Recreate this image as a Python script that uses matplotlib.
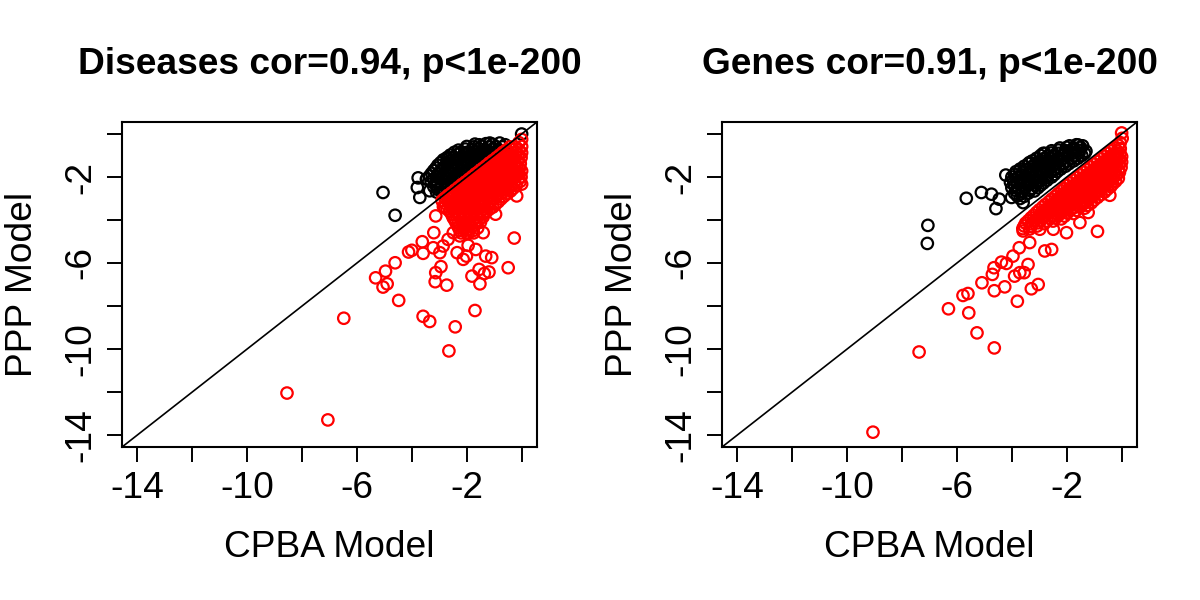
import matplotlib.pyplot as plt
import numpy as np

plt.rcParams['font.family'] = ['Liberation Sans', 'DejaVu Sans']

# ---- Diseases panel ----
dis_title = "Diseases cor=0.94, p<1e-200"
dis_black = [
    (-1.55, -0.5), (-1.3, -0.45), (-1.05, -0.48), (-0.8, -0.42), (-0.6, -0.5),
    (-2.3, -0.75), (-2.05, -0.7), (-1.8, -0.72), (-1.55, -0.68), (-1.3, -0.74), (-1.05, -0.7), (-0.85, -0.72),
    (-2.6, -0.98), (-2.35, -0.95), (-2.1, -0.92), (-1.85, -0.97), (-1.6, -0.93), (-1.35, -0.98), (-1.1, -0.95),
    (-2.85, -1.2), (-2.6, -1.25), (-2.35, -1.18), (-2.1, -1.22), (-1.85, -1.2), (-1.6, -1.24), (-1.38, -1.2),
    (-3.05, -1.45), (-2.8, -1.5), (-2.55, -1.43), (-2.3, -1.47), (-2.05, -1.45), (-1.8, -1.5), (-1.62, -1.45),
    (-3.2, -1.7), (-2.95, -1.74), (-2.7, -1.68), (-2.45, -1.72), (-2.2, -1.7), (-1.95, -1.75), (-1.87, -1.7),
    (-3.35, -1.95), (-3.1, -2.0), (-2.85, -1.93), (-2.6, -1.97), (-2.35, -1.95), (-2.12, -2.0),
    (-3.3, -2.2), (-3.05, -2.25), (-2.8, -2.18), (-2.55, -2.22), (-2.38, -2.2),
    (-3.2, -2.45), (-2.95, -2.5), (-2.7, -2.45),
    (-3.1, -2.7), (-2.88, -2.75),
    # in-between rows
    (-2.0, -0.58), (-1.75, -0.6), (-1.45, -0.57), (-1.2, -0.6), (-0.95, -0.58), (-0.7, -0.6),
    (-2.45, -0.85), (-2.2, -0.83), (-1.95, -0.86), (-1.68, -0.82), (-1.45, -0.85), (-1.2, -0.84), (-0.98, -0.86),
    (-2.72, -1.1), (-2.48, -1.07), (-2.22, -1.1), (-1.98, -1.06), (-1.72, -1.1), (-1.48, -1.08), (-1.25, -1.12),
    (-2.95, -1.33), (-2.7, -1.36), (-2.45, -1.32), (-2.2, -1.35), (-1.95, -1.33), (-1.72, -1.37), (-1.5, -1.34),
    (-3.12, -1.58), (-2.88, -1.6), (-2.62, -1.57), (-2.38, -1.6), (-2.12, -1.58), (-1.9, -1.62), (-1.72, -1.58),
    (-3.28, -1.83), (-3.02, -1.86), (-2.78, -1.82), (-2.52, -1.85), (-2.28, -1.83), (-2.02, -1.88),
    (-3.45, -2.08), (-3.2, -2.1), (-2.95, -2.07), (-2.7, -2.1), (-2.45, -2.08), (-2.25, -2.12),
    (-3.15, -2.33), (-2.9, -2.36), (-2.65, -2.32), (-2.48, -2.35),
    (-3.05, -2.58), (-2.8, -2.6),
    # loose ones
    (-5.05, -2.72), (-4.61, -3.78), (-3.77, -2.04), (-3.8, -2.49), (-3.71, -2.95),
    (-3.47, -2.10), (-2.68, -1.14), (-2.01, -0.86), (-1.70, -0.47), (-1.16, -0.42),
    (0.0, 0.0), (-3.10, -2.41), (-3.35, -2.64),
]
dis_red = [
    (0.0, -0.25), (-0.1, -0.4),
    (-0.42, -0.6), (-0.2, -0.62), (0.0, -0.58),
    (-0.68, -0.85), (-0.45, -0.88), (-0.22, -0.83), (0.0, -0.87),
    (-0.92, -1.1), (-0.7, -1.12), (-0.48, -1.08), (-0.25, -1.12), (-0.02, -1.1),
    (-1.18, -1.35), (-0.95, -1.38), (-0.72, -1.33), (-0.5, -1.37), (-0.28, -1.35), (-0.05, -1.38),
    (-1.42, -1.6), (-1.2, -1.63), (-0.98, -1.58), (-0.75, -1.62), (-0.52, -1.6), (-0.3, -1.63), (-0.08, -1.6),
    (-1.68, -1.85), (-1.45, -1.88), (-1.22, -1.83), (-1.0, -1.87), (-0.78, -1.85), (-0.55, -1.88), (-0.32, -1.84), (-0.1, -1.87),
    (-1.92, -2.1), (-1.7, -2.13), (-1.48, -2.08), (-1.25, -2.12), (-1.02, -2.1), (-0.8, -2.13), (-0.58, -2.09), (-0.35, -2.12), (-0.12, -2.1),
    (-2.18, -2.35), (-1.95, -2.38), (-1.72, -2.33), (-1.5, -2.37), (-1.28, -2.35), (-1.05, -2.38), (-0.82, -2.34), (-0.6, -2.37), (-0.38, -2.35), (-0.2, -2.4),
    (-2.42, -2.6), (-2.2, -2.63), (-1.98, -2.58), (-1.75, -2.62), (-1.52, -2.6), (-1.3, -2.63), (-1.08, -2.59), (-0.85, -2.62), (-0.62, -2.6), (-0.4, -2.65),
    (-2.68, -2.85), (-2.45, -2.88), (-2.22, -2.83), (-2.0, -2.87), (-1.78, -2.85), (-1.55, -2.88), (-1.32, -2.84), (-1.1, -2.87), (-0.88, -2.85), (-0.65, -2.9),
    (-2.9, -3.1), (-2.65, -3.13), (-2.42, -3.08), (-2.2, -3.12), (-1.98, -3.1), (-1.75, -3.13), (-1.52, -3.09), (-1.3, -3.12), (-1.08, -3.1), (-0.85, -3.15),
    (-2.85, -3.38), (-2.6, -3.35), (-2.38, -3.38), (-2.15, -3.33), (-1.92, -3.37), (-1.7, -3.35), (-1.48, -3.38), (-1.25, -3.34), (-1.05, -3.4),
    (-2.62, -3.6), (-2.4, -3.63), (-2.18, -3.58), (-1.95, -3.62), (-1.72, -3.6), (-1.5, -3.63), (-1.28, -3.6),
    (-2.5, -3.88), (-2.28, -3.85), (-2.05, -3.88), (-1.82, -3.83), (-1.6, -3.87), (-1.4, -3.85),
    (-2.4, -4.1), (-2.15, -4.13), (-1.92, -4.08), (-1.7, -4.12), (-1.5, -4.1),
    (-2.3, -4.35), (-2.05, -4.38), (-1.82, -4.33), (-1.6, -4.37),
    (-2.2, -4.6), (-1.95, -4.63), (-1.75, -4.6),
    # in-between rows
    (-0.55, -0.73), (-0.32, -0.72), (-0.1, -0.74),
    (-0.8, -0.98), (-0.58, -0.97), (-0.35, -0.99), (-0.12, -0.96),
    (-1.05, -1.23), (-0.82, -1.22), (-0.6, -1.24), (-0.38, -1.21), (-0.15, -1.24),
    (-1.3, -1.48), (-1.08, -1.47), (-0.85, -1.49), (-0.62, -1.46), (-0.4, -1.49), (-0.18, -1.47),
    (-1.55, -1.73), (-1.32, -1.72), (-1.1, -1.74), (-0.88, -1.71), (-0.65, -1.74), (-0.42, -1.72), (-0.2, -1.74), (0.0, -1.72),
    (-1.8, -1.98), (-1.58, -1.97), (-1.35, -1.99), (-1.12, -1.96), (-0.9, -1.99), (-0.68, -1.97), (-0.45, -1.99), (-0.22, -1.97), (-0.02, -2.0),
    (-2.05, -2.23), (-1.82, -2.22), (-1.6, -2.24), (-1.38, -2.21), (-1.15, -2.24), (-0.92, -2.22), (-0.7, -2.24), (-0.48, -2.21), (-0.26, -2.25), (-0.05, -2.2),
    (-2.3, -2.48), (-2.08, -2.47), (-1.85, -2.49), (-1.62, -2.46), (-1.4, -2.49), (-1.18, -2.47), (-0.95, -2.49), (-0.72, -2.46), (-0.5, -2.5), (-0.3, -2.52),
    (-2.55, -2.73), (-2.32, -2.72), (-2.1, -2.74), (-1.88, -2.71), (-1.65, -2.74), (-1.42, -2.72), (-1.2, -2.74), (-0.98, -2.71), (-0.75, -2.75), (-0.52, -2.78),
    (-2.8, -2.98), (-2.55, -2.97), (-2.32, -2.99), (-2.1, -2.96), (-1.88, -2.99), (-1.65, -2.97), (-1.42, -2.99), (-1.2, -2.96), (-0.98, -3.0), (-0.75, -3.02),
    (-2.78, -3.23), (-2.52, -3.22), (-2.3, -3.24), (-2.08, -3.21), (-1.85, -3.24), (-1.62, -3.22), (-1.4, -3.24), (-1.18, -3.22), (-0.95, -3.27),
    (-2.72, -3.48), (-2.5, -3.47), (-2.28, -3.49), (-2.05, -3.46), (-1.82, -3.49), (-1.6, -3.47), (-1.38, -3.5), (-1.18, -3.5),
    (-2.55, -3.73), (-2.3, -3.72), (-2.08, -3.74), (-1.85, -3.71), (-1.62, -3.74), (-1.4, -3.72),
    (-2.45, -3.98), (-2.2, -3.97), (-1.98, -3.99), (-1.75, -3.96), (-1.55, -3.99),
    (-2.35, -4.23), (-2.12, -4.22), (-1.9, -4.24), (-1.68, -4.21),
    (-2.25, -4.48), (-2.0, -4.47), (-1.78, -4.5),
    # loose ones
    (-8.55, -12.05), (-7.06, -13.30), (-6.48, -8.57), (-4.48, -7.74), (-5.32, -6.69),
    (-4.96, -6.38), (-5.05, -7.12), (-4.90, -6.97), (-4.61, -5.99), (-4.12, -5.49),
    (-4.00, -5.41), (-3.59, -5.55), (-3.62, -5.01), (-3.20, -4.59), (-3.13, -3.81),
    (-3.59, -8.48), (-3.35, -8.72), (-2.42, -8.97), (-2.65, -10.09), (-1.70, -8.21),
    (-3.15, -6.87), (-3.13, -6.45), (-2.94, -6.17), (-2.73, -7.03), (-1.81, -6.61),
    (-1.52, -6.97), (-1.55, -6.30), (-1.36, -6.49), (-1.19, -6.42), (-0.49, -6.22),
    (-0.27, -4.84), (-1.09, -5.75), (-1.31, -5.68), (-2.01, -5.68), (-2.13, -5.83),
    (-2.35, -5.52), (-1.67, -5.37), (-1.40, -4.59), (-0.95, -3.73), (-1.95, -5.18),
    (-2.49, -4.59), (-2.86, -5.21), (-3.22, -5.29), (-2.68, -4.90), (-2.98, -5.52),
    (-2.25, -4.74), (-2.01, -4.59), (-0.18, -2.88), (0.0, -2.33), (-0.12, -1.79),
    (-2.80, -3.42),
]

# ---- Genes panel ----
gene_title = "Genes cor=0.91, p<1e-200"
gene_black = [
    (-1.9, -0.55), (-1.65, -0.5), (-1.42, -0.55),
    (-2.55, -0.78), (-2.3, -0.75), (-2.05, -0.77), (-1.8, -0.73), (-1.55, -0.76), (-1.3, -0.8),
    (-2.95, -1.0), (-2.7, -1.03), (-2.45, -0.98), (-2.2, -1.02), (-1.95, -1.0), (-1.7, -1.03), (-1.45, -1.0),
    (-3.25, -1.25), (-3.0, -1.28), (-2.75, -1.23), (-2.5, -1.27), (-2.25, -1.25), (-2.0, -1.28), (-1.75, -1.25),
    (-3.55, -1.5), (-3.3, -1.53), (-3.05, -1.48), (-2.8, -1.52), (-2.55, -1.5), (-2.3, -1.53), (-2.05, -1.5),
    (-3.85, -1.75), (-3.6, -1.78), (-3.35, -1.73), (-3.1, -1.77), (-2.85, -1.75), (-2.6, -1.78), (-2.35, -1.75),
    (-4.0, -2.0), (-3.75, -2.03), (-3.5, -1.98), (-3.25, -2.02), (-3.0, -2.0), (-2.75, -2.03), (-2.55, -2.0),
    (-4.05, -2.25), (-3.8, -2.28), (-3.55, -2.23), (-3.3, -2.27), (-3.05, -2.25), (-2.85, -2.28),
    (-4.0, -2.5), (-3.75, -2.53), (-3.5, -2.48), (-3.25, -2.52), (-3.05, -2.5),
    (-3.9, -2.75), (-3.65, -2.78), (-3.4, -2.75),
    (-3.7, -3.0),
    # in-between rows
    (-2.25, -0.65), (-2.0, -0.62), (-1.75, -0.64), (-1.5, -0.62),
    (-2.8, -0.9), (-2.55, -0.88), (-2.3, -0.9), (-2.05, -0.87), (-1.8, -0.9), (-1.55, -0.88), (-1.35, -0.9),
    (-3.1, -1.13), (-2.85, -1.15), (-2.6, -1.12), (-2.35, -1.15), (-2.1, -1.13), (-1.85, -1.15), (-1.6, -1.13),
    (-3.4, -1.38), (-3.15, -1.4), (-2.9, -1.37), (-2.65, -1.4), (-2.4, -1.38), (-2.15, -1.4), (-1.92, -1.38),
    (-3.7, -1.63), (-3.45, -1.65), (-3.2, -1.62), (-2.95, -1.65), (-2.7, -1.63), (-2.45, -1.65), (-2.22, -1.63),
    (-3.9, -1.88), (-3.65, -1.9), (-3.4, -1.87), (-3.15, -1.9), (-2.9, -1.88), (-2.68, -1.9), (-2.45, -1.88),
    (-3.95, -2.13), (-3.7, -2.15), (-3.45, -2.12), (-3.2, -2.15), (-2.95, -2.13), (-2.72, -2.15),
    (-3.9, -2.38), (-3.65, -2.4), (-3.4, -2.37), (-3.15, -2.4), (-2.95, -2.38),
    (-3.85, -2.63), (-3.6, -2.65), (-3.35, -2.62), (-3.18, -2.65),
    (-3.8, -2.88), (-3.55, -2.9),
    # loose ones
    (-7.06, -4.25), (-7.08, -5.09), (-5.66, -2.99), (-5.11, -2.72), (-4.74, -2.80),
    (-4.58, -3.47), (-4.46, -3.03), (-4.22, -1.91), (-4.01, -2.95), (-3.59, -3.19),
    (-3.35, -1.32), (-2.86, -0.90), (-1.58, -0.51), (-3.71, -1.71),
]
gene_red = [
    (0.0, 0.05), (0.02, -0.2), (-0.05, -0.4),
    (-0.25, -0.65), (-0.05, -0.68),
    (-0.5, -0.9), (-0.28, -0.93), (-0.06, -0.9),
    (-0.75, -1.15), (-0.52, -1.18), (-0.3, -1.13), (-0.08, -1.17),
    (-1.0, -1.4), (-0.78, -1.43), (-0.55, -1.38), (-0.32, -1.42), (-0.1, -1.4),
    (-1.25, -1.65), (-1.02, -1.68), (-0.8, -1.63), (-0.58, -1.67), (-0.35, -1.65), (-0.12, -1.68),
    (-1.5, -1.9), (-1.28, -1.93), (-1.05, -1.88), (-0.82, -1.92), (-0.6, -1.9), (-0.38, -1.93), (-0.18, -1.9),
    (-1.75, -2.15), (-1.52, -2.18), (-1.3, -2.13), (-1.08, -2.17), (-0.85, -2.15), (-0.62, -2.18), (-0.4, -2.15), (-0.22, -2.2),
    (-1.98, -2.4), (-1.75, -2.43), (-1.52, -2.38), (-1.3, -2.42), (-1.08, -2.4), (-0.85, -2.43), (-0.62, -2.4), (-0.4, -2.45),
    (-2.2, -2.65), (-1.98, -2.68), (-1.75, -2.63), (-1.52, -2.67), (-1.3, -2.65), (-1.08, -2.68), (-0.85, -2.65), (-0.62, -2.7),
    (-2.42, -2.9), (-2.2, -2.93), (-1.98, -2.88), (-1.75, -2.92), (-1.52, -2.9), (-1.3, -2.93), (-1.08, -2.9), (-0.88, -2.95),
    (-2.65, -3.15), (-2.42, -3.18), (-2.2, -3.13), (-1.98, -3.17), (-1.75, -3.15), (-1.52, -3.18), (-1.3, -3.15), (-1.1, -3.2),
    (-2.88, -3.4), (-2.65, -3.43), (-2.42, -3.38), (-2.2, -3.42), (-1.98, -3.4), (-1.75, -3.43), (-1.52, -3.4), (-1.35, -3.45),
    (-3.1, -3.65), (-2.88, -3.68), (-2.65, -3.63), (-2.42, -3.67), (-2.2, -3.65), (-1.98, -3.68), (-1.75, -3.7),
    (-3.3, -3.9), (-3.08, -3.93), (-2.85, -3.88), (-2.62, -3.92), (-2.4, -3.9), (-2.2, -3.95),
    (-3.5, -4.15), (-3.28, -4.18), (-3.05, -4.13), (-2.82, -4.17),
    (-3.6, -4.4), (-3.35, -4.42),
    # in-between rows
    (-0.12, -0.53),
    (-0.38, -0.78), (-0.15, -0.8),
    (-0.62, -1.03), (-0.4, -1.05), (-0.18, -1.02), (0.0, -1.05),
    (-0.88, -1.28), (-0.65, -1.3), (-0.42, -1.27), (-0.2, -1.3), (0.0, -1.3),
    (-1.12, -1.53), (-0.9, -1.55), (-0.68, -1.52), (-0.45, -1.55), (-0.22, -1.53), (-0.02, -1.55),
    (-1.38, -1.78), (-1.15, -1.8), (-0.92, -1.77), (-0.7, -1.8), (-0.48, -1.78), (-0.25, -1.8), (-0.08, -1.78),
    (-1.62, -2.03), (-1.4, -2.05), (-1.18, -2.02), (-0.95, -2.05), (-0.72, -2.03), (-0.5, -2.05), (-0.3, -2.03), (-0.12, -2.06),
    (-1.88, -2.28), (-1.65, -2.3), (-1.42, -2.27), (-1.2, -2.3), (-0.98, -2.28), (-0.75, -2.3), (-0.52, -2.28), (-0.32, -2.32),
    (-2.1, -2.53), (-1.88, -2.55), (-1.65, -2.52), (-1.42, -2.55), (-1.2, -2.53), (-0.98, -2.55), (-0.75, -2.53), (-0.52, -2.57),
    (-2.32, -2.78), (-2.1, -2.8), (-1.88, -2.77), (-1.65, -2.8), (-1.42, -2.78), (-1.2, -2.8), (-0.98, -2.78), (-0.75, -2.82),
    (-2.55, -3.03), (-2.32, -3.05), (-2.1, -3.02), (-1.88, -3.05), (-1.65, -3.03), (-1.42, -3.05), (-1.2, -3.03), (-1.0, -3.07),
    (-2.78, -3.28), (-2.55, -3.3), (-2.32, -3.27), (-2.1, -3.3), (-1.88, -3.28), (-1.65, -3.3), (-1.42, -3.28), (-1.25, -3.32),
    (-3.0, -3.53), (-2.78, -3.55), (-2.55, -3.52), (-2.32, -3.55), (-2.1, -3.53), (-1.88, -3.55), (-1.65, -3.55),
    (-3.2, -3.78), (-2.98, -3.8), (-2.75, -3.77), (-2.52, -3.8), (-2.3, -3.78), (-2.08, -3.82),
    (-3.4, -4.03), (-3.18, -4.05), (-2.95, -4.02), (-2.72, -4.05), (-2.5, -4.05),
    (-3.55, -4.28), (-3.3, -4.3), (-3.08, -4.28),
    # loose ones
    (-9.06, -13.87), (-7.38, -10.14), (-6.31, -8.13), (-5.57, -8.32), (-5.27, -9.25),
    (-4.64, -9.95), (-5.78, -7.51), (-5.60, -7.42), (-5.09, -6.92), (-4.64, -7.29),
    (-4.26, -7.11), (-3.80, -7.78), (-3.29, -7.20), (-3.04, -7.00), (-4.71, -6.53),
    (-4.65, -6.22), (-4.38, -5.96), (-4.20, -6.02), (-3.96, -5.68), (-3.90, -6.61),
    (-3.71, -6.45), (-3.55, -6.45), (-3.41, -6.07), (-3.73, -5.29), (-3.59, -4.51),
    (-3.35, -5.05), (-2.80, -5.44), (-2.55, -5.37), (-2.01, -4.59), (-1.52, -4.12),
    (-0.88, -4.53), (-0.43, -2.85), (-2.98, -4.43), (-2.49, -4.43), (-1.22, -3.65),
]

ticks = [-14, -12, -10, -8, -6, -4, -2, 0]
tick_labels = ["-14", "", "-10", "", "-6", "", "-2", ""]
lims = (-14.56, 0.56)
x_label = "CPBA Model"
y_label = "PPP Model"

FS = 26.7


def draw_panel(fig, rect, black, red, title):
    ax = fig.add_axes(rect)
    b = np.array(black)
    r = np.array(red)
    ax.scatter(b[:, 0], b[:, 1], s=68, facecolors='none', edgecolors='black', linewidths=1.6)
    ax.scatter(r[:, 0], r[:, 1], s=68, facecolors='none', edgecolors='#ff0000', linewidths=1.6)
    ax.plot(lims, lims, color='black', lw=1.2)
    ax.set_xlim(lims)
    ax.set_ylim(lims)
    ax.set_xticks(ticks)
    ax.set_xticklabels(tick_labels)
    ax.set_yticks(ticks)
    ax.set_yticklabels(tick_labels, rotation=90, va='center')
    ax.tick_params(length=11, width=1.4, labelsize=FS, pad=6)
    for sp in ax.spines.values():
        sp.set_linewidth(1.5)
    cx = rect[0] + rect[2] / 2
    fig.text(cx, 0.892, title, ha='center', va='center', fontsize=FS, fontweight='bold')
    fig.text(cx, 0.087, x_label, ha='center', va='center', fontsize=FS)
    fig.text(rect[0] - 0.083, rect[1] + rect[3] / 2, y_label, ha='center', va='center',
             rotation=90, fontsize=FS)
    return ax


fig = plt.figure(figsize=(12, 6), dpi=100)
draw_panel(fig, [0.1017, 0.255, 0.3458, 0.5417], dis_black, dis_red, dis_title)
draw_panel(fig, [0.6017, 0.255, 0.3458, 0.5417], gene_black, gene_red, gene_title)
fig.savefig("out.png", dpi=100)
